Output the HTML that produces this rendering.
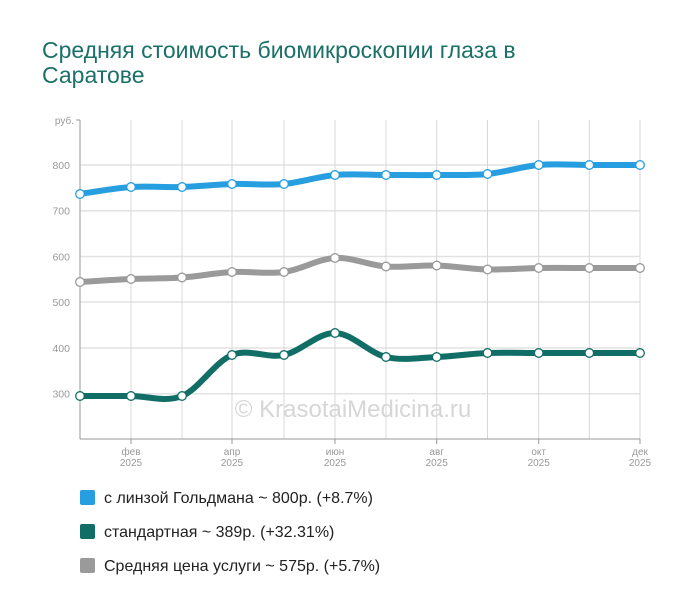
<!DOCTYPE html>
<html><head><meta charset="utf-8"><style>
body{margin:0;background:#fff;width:700px;height:616px;overflow:hidden;font-family:"Liberation Sans",sans-serif}
.t{position:absolute;left:42px;top:38px;font-size:23px;line-height:25px;color:#1b7068}
.lg{position:absolute;left:80px;font-size:16px;color:#222}
.lg i{display:inline-block;width:15px;height:15px;border-radius:2px;vertical-align:-2px;margin-right:9px}
</style></head><body>
<div class="t">Средняя стоимость биомикроскопии глаза в<br>Саратове</div>
<svg id="s" width="700" height="616" style="position:absolute;left:0;top:0"></svg>
<div class="lg" style="top:490px"><i style="background:#279ee0"></i>с линзой Гольдмана ~ 800р. (+8.7%)</div>
<div class="lg" style="top:524px"><i style="background:#116e66"></i>стандартная ~ 389р. (+32.31%)</div>
<div class="lg" style="top:558px"><i style="background:#9a9a9a"></i>Средняя цена услуги ~ 575р. (+5.7%)</div>
<script>
var X=[80,131,182,232,284,335,386,436.7,487.5,538.7,589.3,640];
var s='';
[165,210.7,256.5,302,348,393.7].forEach(function(y,i){s+='<line x1="80" x2="640" y1="'+y+'" y2="'+y+'" stroke="#e2e2e2" stroke-width="1.5"/>';
s+='<text x="70" y="'+(y+4)+'" text-anchor="end" font-size="10.5" fill="#999">'+(800-i*100)+'</text>';});
X.forEach(function(x,i){if(i>0)s+='<line x1="'+x+'" x2="'+x+'" y1="120" y2="439" stroke="#d8d8d8"/>';
if(i%2==1)s+='<line x1="'+x+'" x2="'+x+'" y1="439" y2="444" stroke="#999"/><text x="'+x+'" y="455" text-anchor="middle" font-size="10" fill="#999">'+['','фев','','апр','','июн','','авг','','окт','','дек'][i]+'</text><text x="'+x+'" y="466" text-anchor="middle" font-size="10" fill="#999">2025</text>';});
s+='<line x1="80" x2="80" y1="120" y2="439" stroke="#999"/><line x1="76" x2="80" y1="120" y2="120" stroke="#999"/><line x1="80" x2="640" y1="439" y2="439" stroke="#999"/>';
s+='<text x="74" y="124" text-anchor="end" font-size="10" fill="#999">руб.</text>';
s+='<text x="353" y="417" text-anchor="middle" font-size="24" fill="#d6d6d6">© KrasotaiMedicina.ru</text>';
function path(Y){var d='M'+X[0]+','+Y[0];for(var i=0;i<11;i++){var p0=i?i-1:0,p3=i<10?i+2:11;
var c1x=X[i]+(X[i+1]-X[p0])/6,c1y=Y[i]+(Y[i+1]-Y[p0])/6,c2x=X[i+1]-(X[p3]-X[i])/6,c2y=Y[i+1]-(Y[p3]-Y[i])/6;
d+='C'+c1x+','+c1y+' '+c2x+','+c2y+' '+X[i+1]+','+Y[i+1];}return d;}
var S=[[ [194,187,187,184,184,175,175,175,174,165,165,165],'#279ee0'],
[[282,279,277.5,272,272,258,266.5,265.5,269.5,268,268,268],'#9a9a9a'],
[[396,396,396,355,355,333,357,357,353,353,353,353],'#116e66']];
S.forEach(function(a){s+='<path d="'+path(a[0])+'" fill="none" stroke="'+a[1]+'" stroke-width="6" stroke-linecap="round"/>';
a[0].forEach(function(y,i){s+='<circle cx="'+X[i]+'" cy="'+y+'" r="4.3" fill="#fff" stroke="'+a[1]+'" stroke-width="1.3"/>';});});
document.getElementById('s').innerHTML=s;
</script>
</body></html>
